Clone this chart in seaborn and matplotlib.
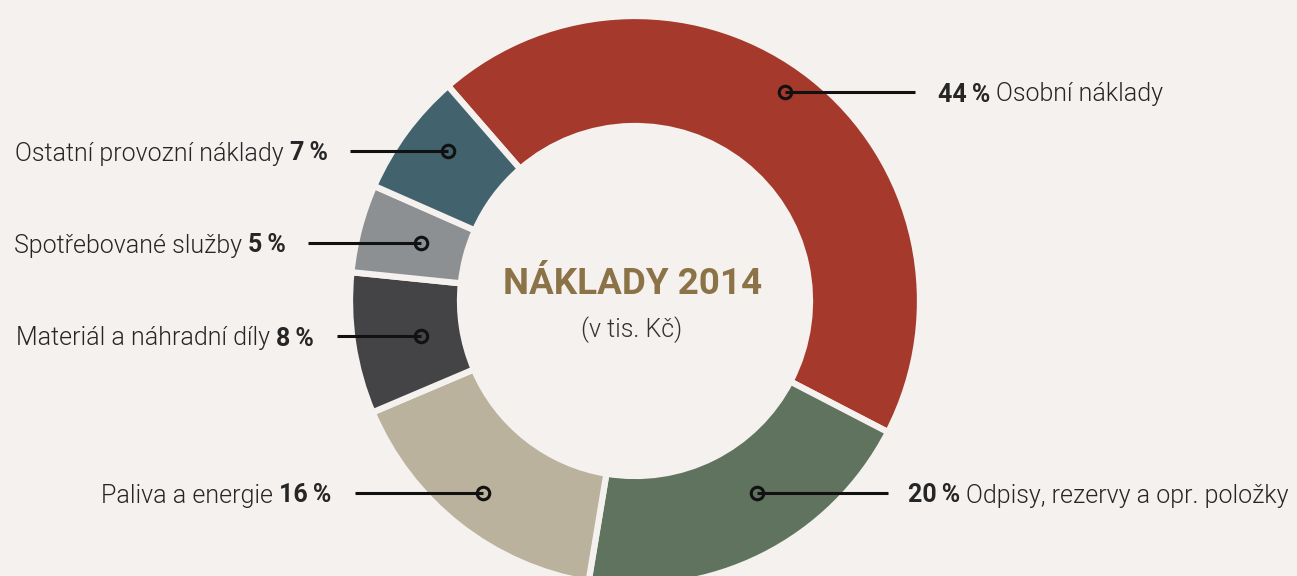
import matplotlib
matplotlib.use("Agg")
import matplotlib.pyplot as plt
import seaborn as sns

# ---- data ----
categories = ["Osobní náklady", "Odpisy, rezervy a opr. položky", "Paliva a energie",
              "Materiál a náhradní díly", "Spotřebované služby", "Ostatní provozní náklady"]
shares = [44, 20, 16, 8, 5, 7]
colors = ["#a5392b", "#60735f", "#bab29c", "#444446", "#8c9092", "#42626e"]
title_main = "NÁKLADY 2014"
title_sub = "(v tis. Kč)"

# ---- layout (pixel coords, y from top) ----
W, H = 1297, 576
BG = "#f4f1ef"
center = (635, 301)
R_OUT, R_W = 285, 110
# dot x, y ; line end x ; text anchor x ; side
label_layout = [
    (785, 92, 915, 938, "right"),
    (757, 493, 888, 908, "right"),
    (483, 493, 355, 331, "left"),
    (421, 336, 337, 314, "left"),
    (421, 243, 308, 286, "left"),
    (448, 151, 350, 328, "left"),
]

sns.set_theme(style="white")
plt.rcParams["font.family"] = ["Roboto", "DejaVu Sans"]

fig = plt.figure(figsize=(W / 100, H / 100), dpi=100, facecolor=BG)
ax = fig.add_axes([0, 0, 1, 1])
ax.set_facecolor(BG)

ax.pie(shares, colors=colors, startangle=131, counterclock=False,
       center=(center[0], H - center[1]), radius=R_OUT, frame=True,
       wedgeprops=dict(width=R_W, edgecolor=BG, linewidth=4.5))
ax.set_xlim(0, W)
ax.set_ylim(0, H)
ax.set_aspect("auto")
ax.axis("off")

TXT = "#262626"
FS = 18
fig.canvas.draw()
renderer = fig.canvas.get_renderer()
inv = ax.transData.inverted()

for cat, val, (dx, dy, lx, tx, side) in zip(categories, shares, label_layout):
    y = H - dy
    ax.plot([dx, lx], [y, y], color="#111111", lw=2.2, solid_capstyle="butt", zorder=5)
    ax.plot([dx], [y], marker="o", ms=9, mfc="none", mec="#111111", mew=2.2, zorder=6)
    pct = f"{val}\u2009%"
    if side == "right":
        t1 = ax.text(tx, y, pct, fontsize=FS, fontweight="bold", color=TXT,
                     ha="left", va="center_baseline")
        bb = t1.get_window_extent(renderer)
        x2 = inv.transform((bb.x1, 0))[0] + 6
        ax.text(x2, y, cat, fontsize=FS, fontweight=300, color=TXT,
                ha="left", va="center_baseline")
    else:
        t1 = ax.text(tx, y, pct, fontsize=FS, fontweight="bold", color=TXT,
                     ha="right", va="center_baseline")
        bb = t1.get_window_extent(renderer)
        x2 = inv.transform((bb.x0, 0))[0] - 6
        ax.text(x2, y, cat, fontsize=FS, fontweight=300, color=TXT,
                ha="right", va="center_baseline")

ax.text(633, H - 280, title_main, fontsize=26.5, fontweight="bold", color="#8b7347",
        ha="center", va="center_baseline")
ax.text(632, H - 327, title_sub, fontsize=18, fontweight=300, color="#333333",
        ha="center", va="center_baseline")

fig.savefig("out.png", dpi=100, facecolor=BG)
